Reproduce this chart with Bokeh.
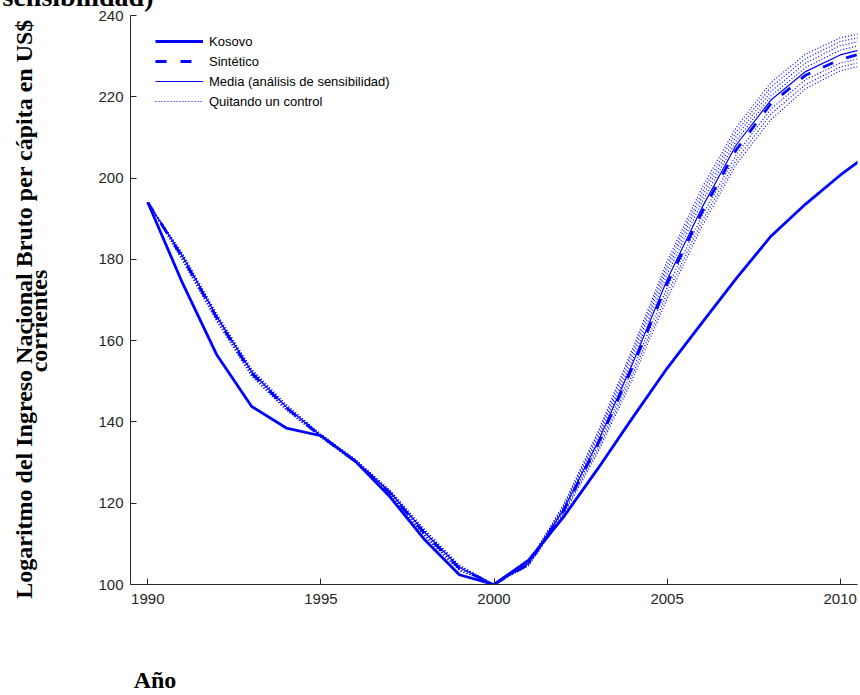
from bokeh.plotting import figure
from bokeh.models import Range1d, Legend, LegendItem, FixedTicker
from bokeh.embed import file_html
from bokeh.resources import INLINE

years = list(range(1990, 2012))

kosovo = [194, 174.2, 156.4, 143.8, 138.5, 136.6, 130.3, 121.5, 111.0, 102.4, 100,
          106.0, 116.5, 128.5, 141.0, 153.2, 164.3, 175.3, 185.7, 193.6, 200.7, 207.0]

sintetico = [194, 180.5, 165.5, 152.0, 143.5, 136.5, 130.3, 122.5, 112.5, 104.0, 100,
             105.0, 118.0, 134.5, 153.5, 174.0, 191.5, 207.0, 218.3, 225.3, 229.2, 231.5]

media = [194, 180.8, 165.8, 152.3, 143.7, 136.6, 130.4, 122.7, 112.8, 104.2, 100,
         105.2, 118.3, 135.0, 154.3, 175.0, 192.6, 208.2, 219.2, 226.2, 230.3, 232.5]

quitando_1 = [194, 181.5, 166.5, 153.0, 144.3, 137.0, 130.8, 123.2, 113.5, 104.8, 100,
              105.5, 119.5, 137.5, 158.0, 179.5, 197.5, 212.5, 223.5, 230.5, 234.5, 236.3]
quitando_2 = [194, 181.2, 166.2, 152.8, 144.0, 136.8, 130.6, 123.0, 113.2, 104.6, 100,
              105.4, 119.2, 137.0, 157.2, 178.5, 196.3, 211.4, 222.4, 229.4, 233.6, 235.4]
quitando_3 = [194, 181.0, 166.0, 152.5, 143.8, 136.7, 130.5, 122.8, 113.0, 104.4, 100,
              105.3, 118.9, 136.3, 156.3, 177.5, 195.2, 210.3, 221.3, 228.3, 232.6, 234.4]
quitando_4 = [194, 180.8, 165.7, 152.3, 143.6, 136.6, 130.4, 122.6, 112.8, 104.3, 100,
              105.2, 118.6, 135.6, 155.2, 176.3, 194.0, 209.2, 220.2, 227.2, 231.5, 233.4]
quitando_5 = [194, 180.3, 165.3, 151.8, 143.3, 136.4, 130.2, 122.3, 112.3, 103.8, 100,
              105.0, 117.8, 134.0, 152.8, 173.0, 190.5, 205.8, 217.0, 224.2, 228.3, 230.3]
quitando_6 = [194, 180.0, 165.0, 151.5, 143.1, 136.3, 130.1, 122.1, 112.0, 103.6, 100,
              104.8, 117.4, 133.2, 151.6, 171.6, 189.2, 204.5, 215.8, 223.0, 227.3, 229.3]
quitando_7 = [194, 179.7, 164.6, 151.2, 142.9, 136.2, 130.0, 121.9, 111.8, 103.4, 100,
              104.6, 117.0, 132.5, 150.5, 170.3, 188.0, 203.4, 214.4, 222.0, 226.4, 228.4]
quitando = [quitando_1, quitando_2, quitando_3, quitando_4, quitando_5, quitando_6, quitando_7]

x_ticks = [1990, 1995, 2000, 2005, 2010]
y_ticks = [100, 120, 140, 160, 180, 200, 220, 240]

legend_labels = ["Kosovo", "Sintético", "Media (análisis de sensibilidad)", "Quitando un control"]
title_tail = "sensibilidad)"
ylabel_1 = "Logaritmo del Ingreso Nacional Bruto per cápita en US$"
ylabel_2 = "corrientes"
xlabel = "Año"

BLUE = "#0000ff"
AX = "#262626"
NB = "\u00a0"
SERIF = "Liberation Serif"

p = figure(width=860, height=695, output_backend="svg", toolbar_location=None,
           x_range=Range1d(1989.5, 2010.5), y_range=Range1d(100, 240),
           min_border_left=130, min_border_right=3, min_border_top=15, min_border_bottom=110)
p.outline_line_color = None
p.xgrid.visible = False
p.ygrid.visible = False
p.background_fill_color = "white"
p.border_fill_color = "white"

for ax in (p.xaxis, p.yaxis):
    ax.axis_line_color = AX
    ax.axis_line_width = 1
    ax.major_tick_line_color = AX
    ax.major_tick_in = 6
    ax.major_tick_out = 0
    ax.minor_tick_line_color = None
    ax.major_label_text_font = "Liberation Sans"
    ax.major_label_text_font_size = "15px"
    ax.major_label_text_color = AX
    ax.axis_label_text_font = SERIF
    ax.axis_label_text_font_style = "bold"
    ax.axis_label_text_font_size = "24px"
    ax.axis_label_text_color = "black"
p.xaxis.ticker = FixedTicker(ticks=x_ticks)
p.yaxis.ticker = FixedTicker(ticks=y_ticks)
p.xaxis.major_label_standoff = 9
p.yaxis.major_label_standoff = 7

# y label: two lines, nudged downward with trailing no-break spaces
p.yaxis.axis_label = ylabel_1 + NB * 3 + "\n" + ylabel_2 + NB * 7
p.yaxis.axis_label_text_line_height = 0.6
p.yaxis.axis_label_standoff = 43

# x label: left part of the bottom margin
p.xaxis.axis_label = xlabel + NB * 113
p.xaxis.axis_label_standoff = 60

# cut-off title fragment at the very top
p.title.text = title_tail + "\n" + NB
p.title.text_font = SERIF
p.title.text_font_style = "bold"
p.title.text_font_size = "28px"
p.title.text_color = "black"
p.title.text_line_height = 0.71
p.title.align = "left"
p.title.vertical_align = "top"
try:
    p.title.offset = -128
except Exception:
    pass
try:
    p.title.standoff = -40
except Exception:
    pass

dot_renderers = []
for series in quitando:
    r = p.line(years, series, line_color=BLUE, line_width=1.2, line_dash="1 2")
    dot_renderers.append(r)
r_media = p.line(years, media, line_color=BLUE, line_width=1.2)
r_sint = p.line(years, sintetico, line_color=BLUE, line_width=2.8, line_dash="11 14")
r_kos = p.line(years, kosovo, line_color=BLUE, line_width=2.8)

legend = Legend(items=[
    LegendItem(label=legend_labels[0], renderers=[r_kos]),
    LegendItem(label=legend_labels[1], renderers=[r_sint]),
    LegendItem(label=legend_labels[2], renderers=[r_media]),
    LegendItem(label=legend_labels[3], renderers=[dot_renderers[0]]),
], location=(25, 473))
legend.border_line_color = None
legend.background_fill_alpha = 0
legend.padding = 0
legend.margin = 0
legend.spacing = 0
legend.glyph_width = 48
legend.glyph_height = 20
legend.label_height = 20
legend.label_standoff = 6
legend.label_text_font = "Liberation Sans"
legend.label_text_font_size = "13px"
legend.label_text_color = "black"
p.add_layout(legend)

open("out.html", "w").write(file_html(p, INLINE))
